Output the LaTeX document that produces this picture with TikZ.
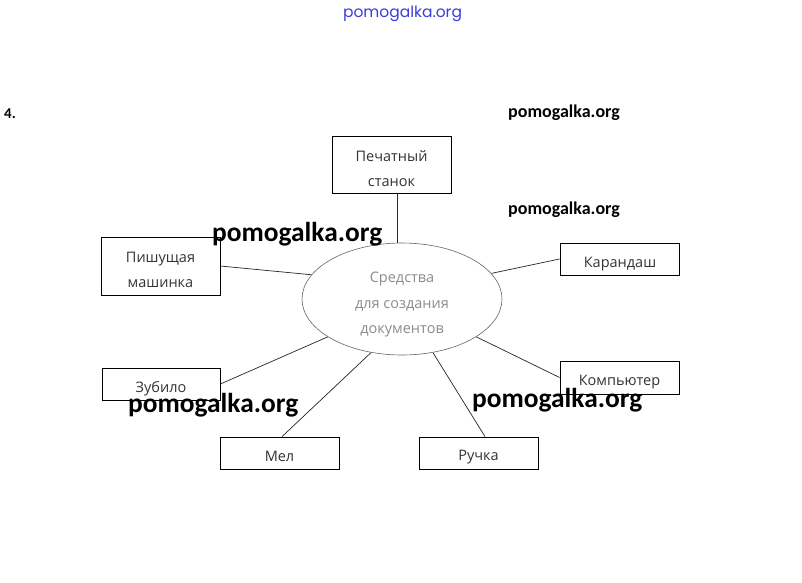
\documentclass[tikz,border=0pt]{standalone}
\usepackage{fontspec}
\usetikzlibrary{shapes.geometric}
\setmainfont{Carlito}
\newfontfamily\wmfont{Poppins}
\newfontfamily\lblfont{Open Sans}
\begin{document}
\begin{tikzpicture}[x=1pt,y=-1pt,
  box/.style={draw=black, line width=0.8pt, minimum width=119pt, minimum height=32pt, inner sep=0pt},
  lbl/.style={text=black!80, font=\lblfont\fontsize{14.5}{18}\selectfont, inner sep=0pt, anchor=base},
  elbl/.style={text=black!45, font=\lblfont\fontsize{14.5}{18}\selectfont, inner sep=0pt, anchor=base},
  conn/.style={draw=black!85, line width=0.7pt},
  wmbig/.style={font=\fontsize{27.4}{30}\selectfont\bfseries, inner sep=0pt, anchor=base west, text=black},
  wmsmall/.style={font=\fontsize{18}{20}\selectfont\bfseries, inner sep=0pt, anchor=base west, text=black}]
\fill[white] (0,0) rectangle (802,582);
\useasboundingbox (0,0) rectangle (802,582);

% header
\node[font=\wmfont\fontsize{15.5}{18}\selectfont, text={rgb,255:red,60;green,60;blue,220}, inner sep=0pt, anchor=base] (top) at (402.5,17) {pomogalka.org};
\node[font=\fontsize{15}{18}\selectfont\bfseries, inner sep=0pt, anchor=base west] (num) at (4,118) {4.};

% central ellipse
\node[draw=black!60, line width=0.6pt, shape=ellipse, minimum width=200pt, minimum height=112pt, inner sep=0pt] (ell) at (402,299) {};
\node[elbl] (e1) at (402,282) {Средства};
\node[elbl] (e2) at (402,308) {для создания};
\node[elbl] (e3) at (402,333) {документов};

% boxes
\node[box, minimum height=57pt] (pech) at (391.5,164.5) {};
\node[lbl] (pech1) at (391.5,161) {Печатный};
\node[lbl] (pech2) at (391.5,186) {станок};

\node[box, minimum height=58pt] (pish) at (160.5,266) {};
\node[lbl] (pish1) at (160.5,262) {Пишущая};
\node[lbl] (pish2) at (160.5,287) {машинка};

\node[box] (kar) at (619.5,259) {};
\node[lbl] (kar1) at (620,267) {Карандаш};

\node[box, minimum height=33pt] (komp) at (619.5,377.5) {};
\node[lbl] (komp1) at (619.5,385) {Компьютер};

\node[box, minimum width=118pt] (zub) at (161,384) {};
\node[lbl] (zub1) at (161,392) {Зубило};

\node[box] (mel) at (279.5,453) {};
\node[lbl] (mel1) at (279.5,461) {Мел};

\node[box] (ruch) at (478.5,453) {};
\node[lbl] (ruch1) at (478.5,460) {Ручка};

% connectors
\draw[conn] (pech.south -| ell.95) -- (ell.95);
\draw[conn] (pish.east) -- (ell.165);
\draw[conn] (kar.west) -- (ell.16);
\draw[conn] (komp.west) -- (ell.-27);
\draw[conn] (zub.east) -- (ell.207);
\draw[conn] ([xshift=2.5pt]mel.north) -- (ell.240);
\draw[conn] ([xshift=6.5pt]ruch.north) -- (ell.-60);

% watermarks
\node[wmsmall] (w1) at (508,117) {pomogalka.org};
\node[wmsmall] (w2) at (508,214) {pomogalka.org};
\node[wmbig] (w3) at (212,241) {pomogalka.org};
\node[wmbig] (w4) at (128,412) {pomogalka.org};
\node[wmbig] (w5) at (472,407) {pomogalka.org};
\end{tikzpicture}
\end{document}
